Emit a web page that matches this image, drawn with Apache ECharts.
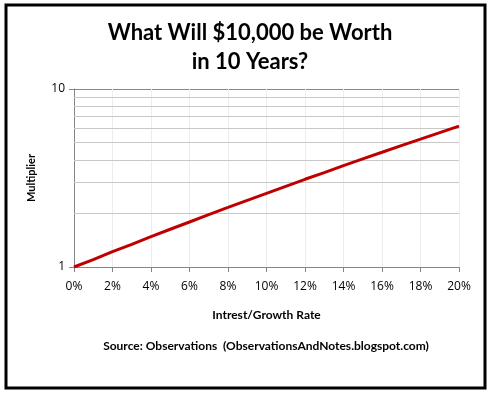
<!DOCTYPE html>
<html><head><meta charset="utf-8">
<script src="https://cdn.jsdelivr.net/npm/echarts@6/dist/echarts.min.js"></script>
<style>html,body{margin:0;padding:0;background:#fff}#c{width:491px;height:394px}</style>
</head><body><div id="c"></div>
<script>
const titleText = 'What Will $10,000 be Worth\nin 10 Years?';
const rates = [0,1,2,3,4,5,6,7,8,9,10,11,12,13,14,15,16,17,18,19,20];
const multipliers = [1.00,1.10,1.22,1.34,1.48,1.63,1.79,1.97,2.16,2.37,2.59,2.84,3.11,3.39,3.71,4.05,4.41,4.81,5.23,5.69,6.19];
const xTicks = [0,2,4,6,8,10,12,14,16,18,20];
const yMinorGrid = [2,3,4,5,6,7,8,9];
const xName = 'Intrest/Growth Rate';
const yName = 'Multiplier';
const sourceText = 'Source: Observations  (ObservationsAndNotes.blogspot.com)';

const chart = echarts.init(document.getElementById('c'), null, {renderer:'canvas'});
const F = 'Lato, "Open Sans", sans-serif';
chart.setOption({
  animation:false,
  backgroundColor:'#fff',
  title:{text:titleText,left:245,top:13,textAlign:'center',
    textStyle:{fontFamily:F,fontWeight:'bold',fontSize:22,color:'#000',lineHeight:29}},
  grid:{left:74,right:32,top:89,bottom:127,containLabel:false},
  xAxis:{type:'value',min:0,max:20,interval:2,
    name:xName,nameLocation:'middle',nameGap:42,
    nameTextStyle:{fontFamily:F,fontWeight:'bold',fontSize:12,color:'#000'},
    axisLine:{lineStyle:{color:'#868686'}},
    axisTick:{show:true,length:5,lineStyle:{color:'#868686'}},
    axisLabel:{formatter:v=>v+'%',fontFamily:'"Open Sans", sans-serif',fontSize:12,color:'#000',margin:14},
    splitLine:{show:true,lineStyle:{color:'#ececec'}}},
  yAxis:{type:'log',logBase:10,min:1,max:10,
    name:yName,nameLocation:'middle',nameGap:37,nameRotate:90,
    nameTextStyle:{fontFamily:F,fontWeight:'bold',fontSize:11,color:'#000'},
    axisLine:{show:true,lineStyle:{color:'#868686'}},
    axisTick:{show:true,length:5,lineStyle:{color:'#868686'}},
    axisLabel:{fontFamily:'"Open Sans", sans-serif',fontSize:12,color:'#000',margin:9},
    splitLine:{show:true,lineStyle:{color:'#868686'}}},
  series:[{type:'line',data:rates.map((r,i)=>[r,multipliers[i]]),
    showSymbol:false,symbol:'none',smooth:false,
    lineStyle:{color:'#c00000',width:3},
    markLine:{silent:true,symbol:'none',label:{show:false},
      lineStyle:{color:'#c8c8c8',type:'solid',width:1},
      data:yMinorGrid.map(v=>({yAxis:v}))},
    z:5}],
  graphic:[
    {type:'text',x:266,y:340,style:{text:sourceText,font:'bold 12px '+F,fill:'#000',textAlign:'center'}},
    {type:'rect',shape:{x:6,y:5,width:479,height:383},style:{fill:'none',stroke:'#000',lineWidth:3},z:100}
  ]
});
</script></body></html>
